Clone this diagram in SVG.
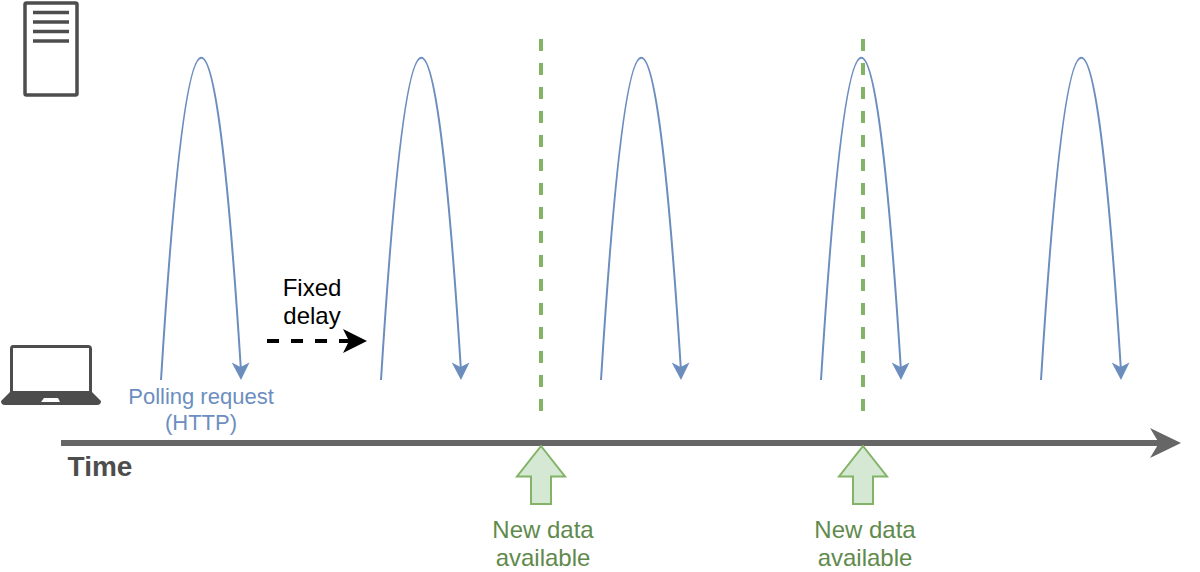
<svg xmlns="http://www.w3.org/2000/svg" width="1200" height="572" viewBox="0 0 1200 572">
<style>
text{font-family:"Liberation Sans",Arial,sans-serif;text-anchor:middle;font-size:22px}
.big{font-size:24px}
.poll{fill:none;stroke:#6c8ebf;stroke-width:2}
.ah{fill:#6c8ebf}
.gd{fill:none;stroke:#82b366;stroke-width:4;stroke-dasharray:12 12}
.up{fill:#d5e8d4;stroke:#82b366;stroke-width:2}
.gt{fill:#5f8a4c}
.ic{fill:#4d4d4d}
</style>
<defs>
<g id="loop"><path class="poll" d="M161 380Q201 -260 241 371"/><path class="ah" d="M241 380L231.700 362.500L240.500 367L249.500 362.500Z"/></g>
</defs>
<rect width="1200" height="572" fill="#fff"/>
<g id="connectors">
<g id="axis"><path d="M61 443H1160" stroke="#666" stroke-width="6" fill="none"/><path d="M1181 443L1150 458L1159 443L1150 428Z" fill="#666"/></g>
<g id="polls">
<use href="#loop"/>
<use href="#loop" x="220"/>
<use href="#loop" x="440"/>
<use href="#loop" x="660"/>
<use href="#loop" x="880"/>
</g>
<g id="delay"><path d="M267 341H354" stroke="#000" stroke-width="4" stroke-dasharray="12 12" fill="none"/><path d="M367 341L343 353L349 341L343 329Z" fill="#000"/></g>
<path class="gd" d="M541 39V411"/>
<path class="gd" d="M863 39V411"/>
</g>
<g id="server">
<rect x="25" y="3" width="52" height="92" rx="1.500" fill="#fff" stroke="#4d4d4d" stroke-width="3.500"/>
<path d="M33 12.500H69M33 22H69M33 31.500H69M33 41H69" stroke="#4d4d4d" stroke-width="3.500" fill="none"/>
</g>
<g id="laptop">
<path class="ic" fill-rule="evenodd" d="M13 345H88Q92 345 92 349V392L101 401Q101 405 97 405H5Q1 405 1 401L10 392V349Q10 345 13 345ZM13 348V391H89V348Z"/>
<path d="M41 402L44 398H58L60 402Z" fill="#fff"/>
</g>
<g id="label-polling"><text x="201" y="404" fill="#6c8ebf">Polling request</text><text x="201" y="430" fill="#6c8ebf">(HTTP)</text></g>
<g id="label-time"><text x="100" y="475.500" fill="#4d4d4d" font-weight="700" style="font-size:28px">Time</text></g>
<g id="label-delay"><text class="big" x="312" y="296" fill="#000">Fixed</text><text class="big" x="312" y="324" fill="#000">delay</text></g>
<g id="new-data-1">
<path class="up" d="M541 446L565 476.500H551V504H531V476.500H517Z"/>
<text class="gt big" x="543" y="538">New data</text><text class="gt big" x="543" y="566">available</text>
</g>
<g id="new-data-2">
<path class="up" d="M863 446L887 476.500H873V504H853V476.500H839Z"/>
<text class="gt big" x="865" y="538">New data</text><text class="gt big" x="865" y="566">available</text>
</g>
</svg>
